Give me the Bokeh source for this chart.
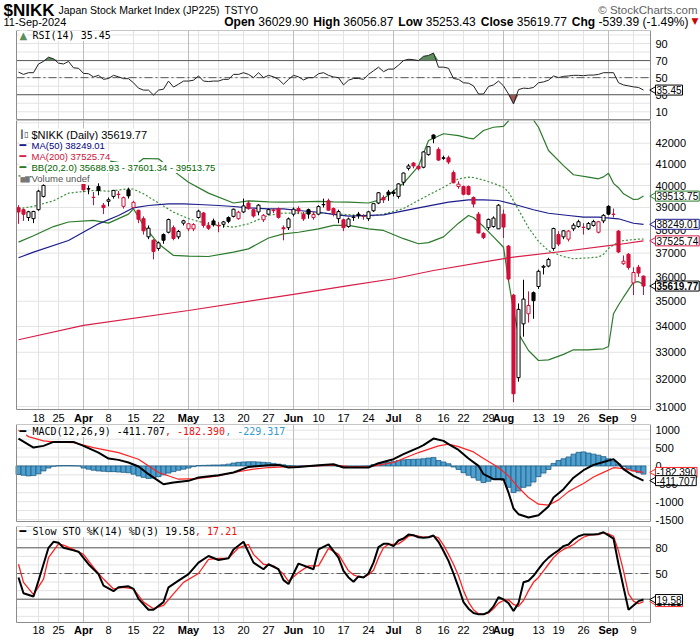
import math
from bokeh.plotting import figure
from bokeh.models import Range1d, Label
from bokeh.layouts import column
from bokeh.embed import file_html
from bokeh.resources import INLINE
from bokeh.core.properties import value

# ---------------- price data: trading days 12-Mar-2024 .. 11-Sep-2024 ----------------
opens = [38990, 38900, 38550, 38500, 38900, 39500, 40400, 40900, 40600, 40250,
         40350, 40650, 40600, 40100, 39850, 39460, 39950, 39100, 39280, 39500,
         39600, 39050, 39800, 39000, 38870, 38500, 37700, 37550, 37200, 37800,
         37900, 38100, 37700, 38300, 38050, 38050, 38550, 38750, 38200, 38400,
         38200, 38250, 38550, 38600, 38500, 38800, 39200, 38900, 38800, 38450,
         38700, 38880, 38950, 38100, 38100, 38700, 38950, 38700, 38900, 38550,
         38700, 39120, 39300, 38950, 38500, 38450, 38150, 38550, 38700, 38600,
         38500, 38850, 39200, 39450, 39700, 39700, 39500, 40150, 40800, 41050,
         40900, 40850, 41450, 42400, 41700, 41300, 41300, 40600, 39950, 39950,
         39950, 39450, 38700, 37850, 38100, 38150, 38050, 38700, 37300, 35249,
         32050, 34100, 34500, 35350, 35600, 36400, 36450, 37200, 37800, 37700,
         37600, 38050, 38150, 38120, 38050, 38200, 37900, 38400, 39050, 38700,
         37950, 36550, 36950, 35750, 36400, 36029.90]
highs = [39100, 38950, 38850, 38850, 39800, 40050, 40850, 41088, 40700, 40500,
         40800, 40700, 40650, 40300, 40000, 39700, 40100, 39200, 39450, 39800,
         39750, 39500, 39900, 39300, 38900, 38600, 38200, 37600, 37500, 37850,
         38500, 38200, 38000, 38450, 38300, 38300, 38900, 38800, 38350, 38500,
         38350, 38400, 38600, 38950, 38850, 39400, 39300, 38950, 39150, 38700,
         38950, 38950, 39000, 38200, 38550, 39000, 39050, 38800, 38950, 38800,
         39100, 39400, 39400, 39000, 38900, 38500, 38550, 38650, 38800, 38700,
         38850, 39200, 39700, 39550, 39800, 39800, 40100, 40600, 41000, 41100,
         40950, 41600, 41850, 42426, 41800, 41400, 41400, 40700, 40200, 40000,
         40000, 39500, 38800, 37900, 38500, 38600, 39150, 38900, 37350, 35300,
         34911, 35880, 35400, 35400, 36300, 36500, 36800, 38100, 37950, 38000,
         38000, 38300, 38450, 38300, 38350, 38450, 38400, 38700, 39100, 38950,
         38000, 36900, 37000, 36400, 36500, 36056.87]
lows = [38270, 38400, 38400, 38300, 38850, 39450, 40300, 40650, 40300, 40100,
        40250, 40100, 40200, 39700, 39600, 39100, 39550, 38700, 39050, 39400,
        39400, 38950, 39400, 38950, 38300, 37800, 37600, 36733, 37100, 37400,
        37850, 37550, 37600, 38200, 37950, 37950, 38500, 38100, 38000, 38150,
        37900, 38100, 38300, 38550, 38450, 38750, 38900, 38550, 38650, 38350,
        38650, 38750, 38500, 37550, 38000, 38600, 38700, 38400, 38500, 38450,
        38650, 39000, 38850, 38600, 38300, 37950, 38100, 38400, 38500, 38450,
        38400, 38800, 39150, 39200, 39300, 39500, 39400, 40000, 40700, 40800,
        40700, 40800, 41400, 42000, 41150, 41200, 41000, 40100, 39850, 39550,
        39550, 39000, 37850, 37600, 38000, 38100, 38050, 37650, 35800, 31156,
        31900, 33600, 34150, 34300, 35500, 36100, 36400, 37100, 37300, 37600,
        37500, 37950, 38100, 37800, 38000, 38150, 37850, 38300, 38650, 38550,
        37000, 36500, 36300, 35250, 36000, 35253.43]
closes = [38797, 38695, 38807, 38820, 39740, 40004, 40816, 40888, 40414, 40398,
          40762, 40168, 40369, 39803, 39838, 39451, 39773, 38992, 39347, 39773,
          39581, 39442, 39523, 39232, 38471, 37962, 38079, 37068, 37438, 37552,
          38460, 37628, 37934, 38405, 38274, 38236, 38835, 38202, 38073, 38229,
          38179, 38356, 38385, 38920, 38787, 39069, 38946, 38617, 39103, 38646,
          38900, 38855, 38556, 38054, 38488, 38923, 38837, 38490, 38703, 38683,
          39038, 39134, 38876, 38720, 38814, 38102, 38482, 38570, 38633, 38596,
          38804, 39173, 39667, 39341, 39583, 39631, 40074, 40580, 40913, 40912,
          40780, 41580, 41831, 42224, 41190, 41275, 41097, 40126, 40063, 39599,
          39594, 39154, 37869, 37667, 38468, 38525, 39101, 38126, 35909, 31458,
          34675, 35089, 34831, 35025, 36232, 36442, 36726, 38062, 37388, 37963,
          37951, 38211, 38364, 38110, 38288, 38371, 38362, 38647, 38700, 38686,
          37047, 36657, 36391, 36180, 36159, 35619.77]
prev_close = 38820.0

# moving averages / bands (values read at the listed day indexes)
ma50_idx = [0, 3, 10, 16, 20, 23, 26, 30, 33, 36, 40, 43, 46, 50, 53, 56, 60, 63, 66,
            73, 80, 86, 90, 93, 96, 100, 103, 106, 110, 113, 116, 120, 123, 125]
ma50 = [36800, 37040, 37540, 38270, 38640, 38985, 39087, 39165, 39165, 39132, 39087,
        39043, 38985, 38938, 38938, 38863, 38786, 38686, 38610, 38670, 38985, 39237,
        39345, 39345, 39314, 39087, 38896, 38741, 38640, 38565, 38565, 38493, 38296, 38249.01]
ma200_idx = [0, 13, 34, 55, 66, 75, 83, 95, 99, 110, 120, 125]
ma200 = [33480, 34040, 34630, 35280, 35640, 35920, 36265, 36690, 36830, 37100, 37370, 37525.74]

bb_idx = [0, 3, 7, 10, 15, 18, 22, 23, 25, 28, 31, 34, 38, 43, 46, 50, 53, 56, 60, 63,
          66, 70, 73, 77, 80, 82, 85, 88, 90, 91, 93, 95, 97, 98, 99, 100, 102, 104, 106,
          109, 111, 114, 116, 117, 118, 119, 120, 121, 123, 124, 125]
bb_upper = [40450, 40400, 40500, 40950, 41150, 41150, 41000, 40900, 41265, 41250, 40680,
            40150, 39650, 39200, 39300, 39250, 39240, 39250, 39270, 39250, 39240, 39200,
            39390, 40100, 40900, 42130, 42460, 42370, 42250, 42210, 42620, 42780, 42820,
            43100, 43600, 43800, 43500, 42780, 41650, 40930, 40500, 40390, 40310, 40400,
            40570, 40100, 39900, 39620, 39360, 39380, 39513.75]
bb_mid = [38940, 39050, 39300, 39650, 39770, 39740, 39850, 39830, 39620, 39200, 38790,
          38500, 38260, 38120, 38270, 38650, 38750, 38750, 38750, 38720, 38680, 38600,
          38700, 38950, 39320, 39560, 39920, 40310, 40385, 40370, 40250, 40100, 39920,
          39700, 39300, 38900, 38100, 37500, 37100, 36850, 36760, 36800, 36830, 36950,
          37200, 37350, 37480, 37540, 37580, 37600, 37601.34]
bb_lower = [37470, 37750, 38150, 38350, 38420, 38300, 38700, 38940, 38200, 37400, 36900,
            36870, 36855, 37040, 37180, 37650, 37830, 37900, 38050, 38200, 38200, 38050,
            37980, 37620, 37400, 37450, 37700, 38300, 38640, 38550, 38150, 37700, 37250,
            35850, 34630, 33710, 33070, 32690, 32715, 32920, 33095, 33095, 33120, 33133,
            33220, 34500, 34850, 35165, 35780, 35800, 35688.93]

rsi = [56.5, 53.8, 55.8, 55.8, 66, 69, 74, 72, 67, 66,
       69, 61.5, 61, 55, 54.6, 50.8, 52.7, 48, 49, 52.7,
       51, 48.8, 48.8, 44, 37.7, 35.4, 35.4, 29.6, 35.4, 36.5,
       46, 39, 42.3, 46, 46, 47, 52, 46, 45.4, 46,
       46, 48, 48, 53.8, 53.8, 55.8, 53.8, 50, 55.8, 50,
       52.7, 51, 48, 42.3, 48, 52.7, 51, 47.3, 50, 50,
       54.6, 55.8, 52.7, 50.8, 50, 41.5, 47, 49, 49, 48,
       53.8, 58, 62.3, 57, 60, 60, 64.6, 70, 71.5, 71,
       70, 75, 76, 78.8, 62.3, 62.3, 61, 49, 48, 44,
       43.5, 40.4, 30.8, 30.8, 39.6, 41.5, 46, 40.4, 30.8, 19.2,
       36, 37.7, 37.3, 38.5, 44, 45, 47, 52, 50, 51.5,
       52, 52.7, 52.7, 52.3, 53, 53, 53.8, 55.8, 55.8, 55.8,
       44, 41.5, 40.4, 39.2, 38.5, 35.45]

macd_idx = [0, 3, 5, 7, 11, 13, 16, 18, 20, 22, 24, 26, 28, 29, 31, 34, 36, 40, 43, 46,
            50, 52, 54, 56, 60, 63, 65, 68, 70, 72, 75, 77, 80, 81, 83, 85, 86, 88, 90, 92,
            93, 95, 97, 98, 99, 100, 102, 104, 106, 107, 109, 111, 113, 115, 117, 119, 120,
            121, 123, 125]
macd_val = [766, 514, 561, 673, 673, 561, 374, 207, 169, 95, -17, -232, -418, -512, -465,
            -418, -325, -260, -185, -27, 20, 29, -45, -27, 20, 48, -45, -45, -45, 76, 188,
            328, 514, 580, 766, 701, 608, 449, 207, 2, -232, -372, -372, -745, -1193, -1352,
            -1445, -1380, -1137, -885, -652, -330, -120, 30, 110, 190, 67, -92, -279, -411.707]
sig_idx = [0, 2, 5, 7, 11, 15, 20, 24, 28, 32, 36, 40, 43, 47, 50, 53, 56, 63, 66, 70,
           75, 80, 84, 86, 88, 91, 93, 96, 98, 100, 102, 104, 106, 108, 110, 111, 113, 115,
           117, 119, 121, 123, 125]
sig_val = [1000, 820, 700, 673, 654, 514, 374, 188, -185, -372, -353, -279, -185, -92, -45,
           -27, -17, 20, -17, -27, 95, 374, 561, 608, 542, 393, 207, -45, -279, -605, -885,
           -1072, -1100, -950, -720, -640, -490, -310, -180, -50, -73, -139, -182.39]
hist = [-240, -260, -280, -270, -220, -140, -60, -10, 5, 10,
        10, 5, 0, -60, -90, -120, -140, -150, -160, -160,
        -170, -180, -190, -230, -280, -320, -350, -340, -300, -250,
        -200, -160, -120, -90, -60, -20, 10, 15, 20, 25,
        25, 30, 50, 80, 100, 110, 115, 115, 110, 100,
        90, 70, 50, 30, 10, 0, -5, -5, 0, 5,
        10, 15, 15, 10, -10, -40, -40, -30, -20, -10,
        0, 40, 70, 90, 100, 120, 150, 170, 180, 185,
        190, 200, 220, 234, 150, 110, 60, -30, -100, -190,
        -260, -330, -400, -465, -430, -380, -370, -400, -600, -745,
        -700, -600, -560, -450, -300, -200, -100, 70, 150, 200,
        250, 330, 380, 393, 360, 330, 300, 260, 200, 140,
        50, -20, -80, -140, -190, -229.317]

k_idx = [0, 1, 3, 4, 6, 7, 8, 9, 11, 12, 14, 16, 17, 19, 20, 22, 23, 24, 26, 27, 29, 30,
         32, 34, 36, 38, 40, 42, 43, 45, 47, 49, 50, 52, 53, 54, 56, 59, 60, 62, 64, 65] + list(range(66, 126))
k_val = [45.4, 27, 23.1, 41.6, 80, 87, 85.8, 80, 77, 75.4, 60.8, 49.3, 35.8, 29.3, 33.9, 35,
         32, 20.4, 7.7, 7.7, 16.6, 33.9, 41.6, 49.3, 62.7, 70.4, 65.8, 67.7, 78.1, 87, 62.7,
         55, 60.8, 55, 42.3, 37.7, 61.6, 55, 78.1, 83.9, 68.5, 53.1,
         45.4, 40.4, 46.6, 45.4, 50, 62.7, 80.8, 84.6, 84.6, 82,
         88.5, 90.8, 95.4, 94.6, 92.3, 91.6, 92.3, 94.3, 87, 76.2,
         64.7, 50, 33.9, 16.6, 8.9, 3.9, 2.3, 2.3, 5, 11.6,
         22.3, 19.7, 15.4, 6.2, 15.4, 39.7, 41.6, 47.3, 55, 62.7,
         68.5, 73.1, 77, 82, 83.9, 89.6, 93.5, 95.4, 95.4, 95.4,
         96.2, 98.1, 94.6, 90.8, 60.8, 33.9, 7.7, 12.7, 17.7, 19.58]
d_idx = [0, 1, 3, 5, 6, 8, 9, 11, 13, 15, 17, 19, 21, 23, 25, 27, 29, 31, 33, 36, 38, 40,
         42, 44, 46, 47, 49, 51, 53, 54, 56, 58, 60, 62, 64] + list(range(66, 126))
d_val = [60.8, 39.7, 25.4, 43.5, 68.5, 84.6, 83.1, 78.1, 72.3, 57, 43.5, 32, 33.9, 32, 16.6,
         8.9, 12.7, 26.2, 39.7, 50, 66.6, 67.7, 67.7, 80, 83.9, 72.3, 60.8, 58.9, 49.3, 40.8,
         51.2, 58.9, 58.9, 79.3, 72.3,
         53.1, 48.5, 46.2, 45.4, 48.5, 53.9, 68.5, 80, 83.9, 83.9,
         84.6, 88.5, 93.5, 94.6, 93.5, 92.3, 92.3, 93.5, 91.6, 83.1,
         72.3, 60.8, 47.3, 30, 16.6, 7.7, 3.1, 2.3, 3.9, 8.9,
         15.4, 18.5, 19.3, 13.9, 11.6, 18.5, 30, 39.7, 45.4, 53.1,
         60.8, 68.5, 74.3, 78.1, 80.8, 83.9, 88.5, 92.3, 94.6, 95.4,
         95.4, 97.3, 96.2, 93.5, 76.2, 53.1, 26.2, 17.7, 14.7, 17.21]

tick_idx = [4, 8, 13, 18, 23, 28, 34, 40, 45, 50, 55, 60, 65, 70, 75, 80, 85, 89, 94, 97,
            104, 108, 113, 118, 123]
tick_lab = ["18", "25", "Apr", "8", "15", "22", "May", "13", "20", "27", "Jun", "10", "17",
            "24", "Jul", "8", "16", "22", "29", "Aug", "13", "19", "26", "Sep", "9"]
month_names = {"Apr", "May", "Jun", "Jul", "Aug", "Sep"}
week_idx = [4, 8, 18, 23, 28, 36, 40, 45, 50, 60, 65, 70, 80, 85, 89, 94, 99, 104, 108, 113, 123]
month_idx = [13, 34, 55, 75, 97, 118]

rsi_ticks = [10, 30, 50, 70, 90]
price_ticks = [31000, 32000, 33000, 34000, 35000, 36000, 37000, 38000, 39000, 40000, 41000, 42000]
macd_ticks = [-1500, -1000, -500, 0, 500, 1000]
sto_ticks = [20, 50, 80]

# ---------------- layout helpers (page pixels) ----------------
W = 700
PX_L, PX_R = 16, 650
X0, X1 = -0.4, 126.4
PPU = (PX_R - PX_L) / (X1 - X0)
XR0 = X0 - PX_L / PPU
XR1 = X1 + (W - PX_R) / PPU
N = len(closes)
idx = list(range(N))
BLACK, RED = "#000000", "#d0103a"
FRAME = "#8c8c8c"
LIGHT = "#e3e3e3"
MONTH = "#bdbdbd"
BOX_X = 655


def xd(px):
    return X0 + (px - PX_L) / PPU


AR = {' ': 278, '(': 333, ')': 333, ',': 278, '-': 333, '.': 278, '%': 889, '$': 556, '\u00a9': 737,
      'A': 667, 'B': 667, 'C': 722, 'D': 722, 'E': 667, 'F': 611, 'G': 778, 'H': 722, 'I': 278,
      'J': 500, 'K': 667, 'L': 556, 'M': 833, 'N': 722, 'O': 778, 'P': 667, 'Q': 778, 'R': 722,
      'S': 667, 'T': 611, 'U': 722, 'V': 667, 'W': 944, 'X': 667, 'Y': 667, 'Z': 611,
      'a': 556, 'b': 556, 'c': 500, 'd': 556, 'e': 556, 'f': 278, 'g': 556, 'h': 556, 'i': 222,
      'j': 222, 'k': 500, 'l': 222, 'm': 833, 'n': 556, 'o': 556, 'p': 556, 'q': 556, 'r': 333,
      's': 500, 't': 278, 'u': 556, 'v': 500, 'w': 722, 'x': 500, 'y': 500, 'z': 500}
AB = {' ': 278, '(': 333, ')': 333, '-': 333, '.': 278, '%': 889, 'C': 722, 'H': 722, 'L': 611,
      'O': 778, 'c': 556, 'e': 556, 'g': 611, 'h': 611, 'i': 278, 'l': 278, 'n': 611, 'o': 611,
      'p': 611, 's': 556, 'w': 778}


def tw(s, size, bold=False):
    t = AB if bold else AR
    return sum(t.get(ch, 556) for ch in s) * size / 1000.0


class Panel:
    """One stacked figure whose frame is the full canvas; page-pixel <-> data helpers."""

    def __init__(self, top, height, pa, va, pb, vb, box_top, box_bot, log=False):
        self.top, self.h, self.log = top, height, log
        f = math.log if log else (lambda v: v)
        self.fa, self.fb, self.pa, self.pb = f(va), f(vb), pa, pb
        self.box_top, self.box_bot = box_top, box_bot
        self.p = figure(width=W, height=height, x_range=Range1d(XR0, XR1),
                        y_range=Range1d(self.yv(top + height), self.yv(top)),
                        y_axis_type="log" if log else "linear",
                        x_axis_location=None, y_axis_location=None,
                        output_backend="svg", toolbar_location=None, min_border=0)
        self.p.outline_line_color = None
        self.p.grid.visible = False
        self.boxes = []

    def yv(self, page_y):
        s = self.fa + (page_y - self.pa) * (self.fb - self.fa) / (self.pb - self.pa)
        return math.exp(s) if self.log else s

    def grid(self, hvals):
        yt, yb = self.yv(self.box_top), self.yv(self.box_bot)
        p = self.p
        p.segment(x0=X0, x1=X1, y0=hvals, y1=hvals, line_color=LIGHT, line_width=1)
        p.segment(x0=week_idx, x1=week_idx, y0=yb, y1=yt, line_color=LIGHT, line_width=1)
        p.segment(x0=month_idx, x1=month_idx, y0=yb, y1=yt, line_color=MONTH, line_width=1)

    def hline(self, v, dash="solid"):
        self.p.segment(x0=[X0], x1=[X1], y0=[v], y1=[v], line_color="#5a5a5a", line_width=1,
                       line_dash=dash)

    def frame(self):
        yt, yb = self.yv(self.box_top), self.yv(self.box_bot)
        self.p.quad(left=[X0], right=[X1], bottom=[yb], top=[yt], fill_color=None,
                    line_color=FRAME, line_width=1)

    def yticks(self, ticks, labels):
        self.p.text(x=[xd(655)] * len(ticks), y=ticks, text=labels,
                    text_font=value("Liberation Sans"), text_font_size="11px",
                    text_baseline="middle", text_align="left", text_color="#000000")

    def xticks(self, page_y):
        yv = self.yv(page_y)
        days = [(i, l) for i, l in zip(tick_idx, tick_lab) if l not in month_names]
        mons = [(i, l) for i, l in zip(tick_idx, tick_lab) if l in month_names]
        self.p.text(x=[i for i, _ in days], y=[yv] * len(days), text=[l for _, l in days],
                    text_font=value("Liberation Sans"), text_font_size="11px",
                    text_baseline="middle", text_align="center", text_color="#000000")
        self.p.text(x=[i for i, _ in mons], y=[yv] * len(mons), text=[l for _, l in mons],
                    text_font=value("Liberation Sans"), text_font_size="11px",
                    text_font_style="bold", text_baseline="middle", text_align="center",
                    text_color="#000000")

    def legend(self, px, page_y, text, color="#000000", font="DejaVu Sans Mono", size="10px",
               style="normal"):
        self.p.add_layout(Label(x=xd(px), y=self.yv(page_y), text=text, text_color=color,
                                text_font=font, text_font_size=size, text_font_style=style,
                                text_baseline="middle", text_align="left",
                                background_fill_color="white", background_fill_alpha=1.0))

    def vbox(self, v, text, color, bold=False):
        self.boxes.append((v, color))
        self.p.add_layout(Label(x=xd(BOX_X), y=v, text=text, text_font="Liberation Sans",
                                text_font_size="10px",
                                text_font_style="bold" if bold else "normal",
                                text_color="#000000", text_baseline="middle", text_align="left",
                                background_fill_color="white", background_fill_alpha=1.0,
                                border_line_color=color, border_line_width=1, padding=1))

    def pointers(self):
        # small left-pointing tabs on the value boxes (box covers their right half)
        vals = [v for v, _ in self.boxes]
        cols = [c for _, c in self.boxes]
        self.p.scatter(x=[xd(BOX_X)] * len(vals), y=vals, marker="triangle", angle=math.pi / 2,
                       size=10, fill_color="white", line_color=cols, line_width=1)


# ---------------- header ----------------
hdr = figure(width=W, height=30, x_range=Range1d(0, W), y_range=Range1d(0, 30),
             x_axis_location=None, y_axis_location=None, output_backend="svg",
             toolbar_location=None, min_border=0)
hdr.outline_line_color = None
hdr.grid.visible = False
L1, L2 = 20.5, 9.0


def htext(x, y, text, size, bold=False, align="left", color="#000000", font="Liberation Sans"):
    hdr.add_layout(Label(x=x, y=y, text=text, text_font=font, text_font_size=size,
                         text_font_style="bold" if bold else "normal", text_baseline="middle",
                         text_align=align, text_color=color))


htext(3, L1, "$NIKK", "17px", bold=True)
jt = "Japan Stock Market Index (JP225)"
htext(58, L1, jt, "10.5px")
htext(58 + tw(jt, 10.5) + 5, L1, "TSTYO", "10px")
htext(697, L1, "\u00a9 StockCharts.com", "11.5px", align="right", color="#606060")
htext(3, L2, "11-Sep-2024", "11px")
segs = [("Open", True), ("36029.90", False), ("High", True), ("36056.87", False),
        ("Low", True), ("35253.43", False), ("Close", True), ("35619.77", False),
        ("Chg", True), ("-539.39 (-1.49%)", False)]
HS = 12
SP = tw(" ", HS)
GAP = 5
total = sum(tw(s, HS, b) for s, b in segs) + SP * 5 + GAP * 4
xh = 688 - total
for s, b in segs:
    htext(xh, L2, s, "12px", bold=b)
    xh += tw(s, HS, b) + (SP if b else GAP)
htext(698, L2 + 0.5, "\u25bc", "9px", align="right", color="#cc0000", font="DejaVu Sans")

# ---------------- RSI panel (page 30..120) ----------------
R = Panel(30, 90, 43.0, 90.0, 111.3, 10.0, 30, 119)
R.grid(list(range(10, 101, 10)))
rsi_hi = [max(v, 70) for v in rsi]
rsi_lo = [min(v, 30) for v in rsi]
R.p.varea(x=idx, y1=[70] * N, y2=rsi_hi, fill_color="#5d8c5d")
R.p.varea(x=idx, y1=rsi_lo, y2=[30] * N, fill_color="#9c5b58")
R.hline(70)
R.hline(30)
R.hline(50, dash="8 3 2 3")
R.p.line(idx, rsi, line_color="#222222", line_width=1)
R.frame()
R.yticks(rsi_ticks, [str(t) for t in rsi_ticks])
R.legend(19, 35, "\u25b2", color="#5d8c5d", font="DejaVu Sans", size="10px")
R.legend(32, 35, "RSI(14) 35.45")
R.vbox(rsi[-1], "35.45", "#000000")
R.pointers()

# ---------------- price panel (page 120..424) ----------------
M = Panel(120, 304, 142.7, 42000.0, 406.0, 31000.0, 120, 409, log=True)
M.grid(price_ticks + [43000])
M.p.line(bb_idx, bb_upper, line_color="#2b7a2b", line_width=1.2)
M.p.line(bb_idx, bb_lower, line_color="#2b7a2b", line_width=1.2)
M.p.line(bb_idx, bb_mid, line_color="#3d913d", line_width=1.2, line_dash="2 2")
M.p.line(ma200_idx, ma200, line_color="#d81e48", line_width=1.2)
M.p.line(ma50_idx, ma50, line_color="#1c1c8c", line_width=1.2)
pcs = [prev_close] + closes[:-1]
colors = [BLACK if c >= pc else RED for c, pc in zip(closes, pcs)]
fills = ["white" if c > o else col for c, o, col in zip(closes, opens, colors)]
tops = [max(o, c) for o, c in zip(opens, closes)]
bots = [min(o, c) for o, c in zip(opens, closes)]
M.p.segment(x0=idx, y0=lows, x1=idx, y1=highs, line_color=colors, line_width=1)
M.p.vbar(x=idx, width=0.62, top=tops, bottom=bots, fill_color=fills, line_color=colors,
         line_width=1)
M.frame()
M.yticks(price_ticks, [str(t) for t in price_ticks])
M.xticks(417)
rows = [("$NIKK (Daily) 35619.77", "#000000", "11px", None),
        ("MA(50) 38249.01", "#000080", "9.5px", "#1c1c8c"),
        ("MA(200) 37525.74", "#d0103a", "9.5px", "#d81e48"),
        ("BB(20,2.0) 35688.93 - 37601.34 - 39513.75", "#006400", "9.5px", "#2b7a2b"),
        ("Volume undef", "#555555", "9.5px", None)]
for r, (txt, col, sz, sw) in enumerate(rows):
    yy = 134 + 11 * r
    if sw:
        M.legend(19, yy, "\u2501", color=sw, font="DejaVu Sans Mono", size="11px")
    M.legend(31, yy, txt, color=col, font="Liberation Sans", size=sz)
M.legend(19, 134, "\u2503\u25af", color="#333333", font="DejaVu Sans", size="8px")
M.legend(20, 178, "\u2586\u2587", color="#777777", font="DejaVu Sans", size="6px")
M.vbox(39513.75, "39513.75", "#2b7a2b")
M.vbox(38249.01, "38249.01", "#1c1c8c")
M.vbox(37525.74, "37525.74", "#d81e48")
M.vbox(35619.77, "35619.77", "#000000", bold=True)
M.pointers()

# ---------------- MACD panel (page 424..526) ----------------
D = Panel(424, 102, 429.7, 1000.0, 519.0, -1500.0, 424, 521)
D.grid(list(range(-1500, 1001, 250)))
D.p.vbar(x=idx, width=1.0, top=hist, bottom=0, fill_color="#4f9fcf", line_color="#1f5f86",
         line_width=0.8)
D.p.line(sig_idx, sig_val, line_color="#ff2222", line_width=1.2)
D.p.line(macd_idx, macd_val, line_color="#000000", line_width=2)
D.frame()
D.yticks(macd_ticks, [str(t) for t in macd_ticks])
D.legend(19, 431, "\u2501", size="11px")
t1 = "MACD(12,26,9) -411.707"
t2 = ", -182.390"
D.legend(32, 431, t1)
D.legend(32 + 6.02 * len(t1), 431, t2, color="#ee1111")
D.legend(32 + 6.02 * (len(t1) + len(t2)), 431, ", -229.317", color="#3399cc")
D.vbox(-182.39, "-182.390", "#ff2222")
D.vbox(-411.707, "-411.707", "#000000")
D.pointers()

# ---------------- Slow stochastic panel (page 526..639) ----------------
S = Panel(526, 113, 547.3, 80.0, 598.7, 20.0, 526, 622)
S.grid(list(range(0, 101, 10)))
S.hline(80)
S.hline(20)
S.hline(50, dash="8 3 2 3")
S.p.line(d_idx, d_val, line_color="#ff2222", line_width=1.3)
S.p.line(k_idx, k_val, line_color="#000000", line_width=2)
S.frame()
S.yticks(sto_ticks, [str(t) for t in sto_ticks])
S.xticks(629)
S.legend(19, 531, "\u2501", size="11px")
s1 = "Slow STO %K(14) %D(3) 19.58"
S.legend(32, 531, s1)
S.legend(32 + 6.02 * len(s1), 531, ", 17.21", color="#ee1111")
S.vbox(17.21, "17.21", "#ff2222")
S.vbox(19.58, "19.58", "#000000")
S.pointers()

layout = column(hdr, R.p, M.p, D.p, S.p, spacing=0)
open("out.html", "w").write(file_html(layout, INLINE, "NIKK"))
